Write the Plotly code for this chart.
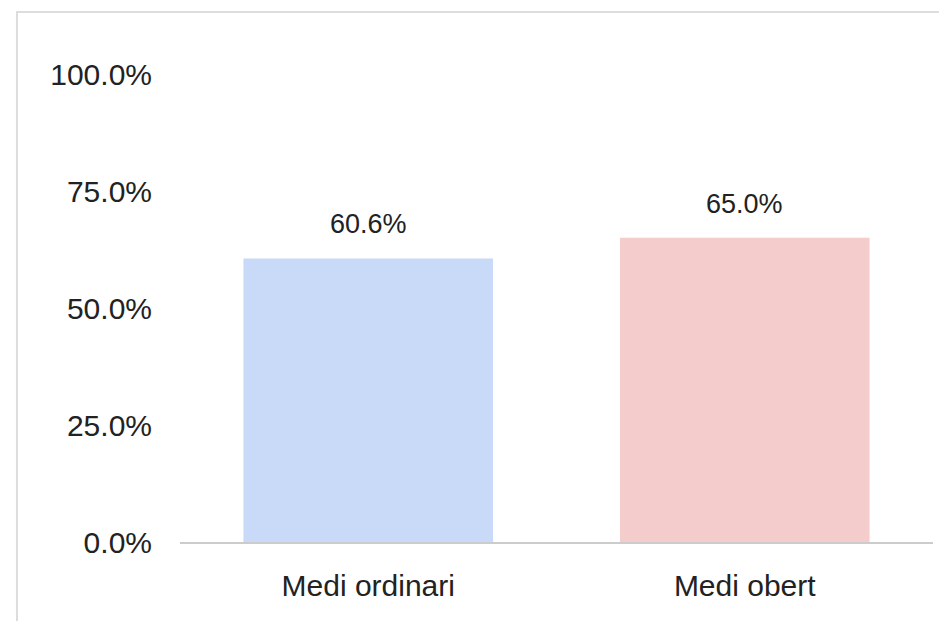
import plotly.graph_objects as go

categories = ["Medi ordinari", "Medi obert"]
values = [60.6, 65.0]
bar_colors = ["#c9daf8", "#f4cccc"]
y_ticks = [0, 25, 50, 75, 100]
y_tick_labels = ["0.0%", "25.0%", "50.0%", "75.0%", "100.0%"]

FONT = "Liberation Sans, Arial, Helvetica, sans-serif"

fig = go.Figure(
    go.Bar(
        x=categories,
        y=values,
        marker=dict(color=bar_colors, line=dict(width=0)),
        width=0.663,
        hoverinfo="skip",
    )
)

# value labels above the bars
for cat, val in zip(categories, values):
    fig.add_annotation(
        x=cat, y=val, text=f"{val:.1f}%",
        showarrow=False, yanchor="bottom", yshift=17,
        font=dict(family=FONT, size=27, color="#222222"),
    )

# light frame around the chart
fig.add_shape(
    type="rect", xref="paper", yref="paper",
    x0=-0.2165, x1=1.2, y0=-0.5, y1=1.1325,
    line=dict(color="#dddddd", width=2), layer="below",
)

fig.update_layout(
    width=947,
    height=621,
    margin=dict(l=172, r=22, t=66, b=87),
    plot_bgcolor="white",
    paper_bgcolor="white",
    showlegend=False,
    font=dict(family=FONT, size=30, color="#222222"),
    xaxis=dict(
        range=[-0.5, 1.5],
        showgrid=False,
        showline=True,
        linecolor="#cccccc",
        linewidth=2,
        ticks="",
        ticklabelstandoff=16,
        tickfont=dict(family=FONT, size=30, color="#222222"),
    ),
    yaxis=dict(
        range=[0, 100],
        tickvals=y_ticks,
        ticktext=y_tick_labels,
        showgrid=False,
        zeroline=False,
        showline=False,
        ticks="",
        ticklabelstandoff=27,
        tickfont=dict(family=FONT, size=30, color="#222222"),
    ),
)

fig.write_html("out.html")
